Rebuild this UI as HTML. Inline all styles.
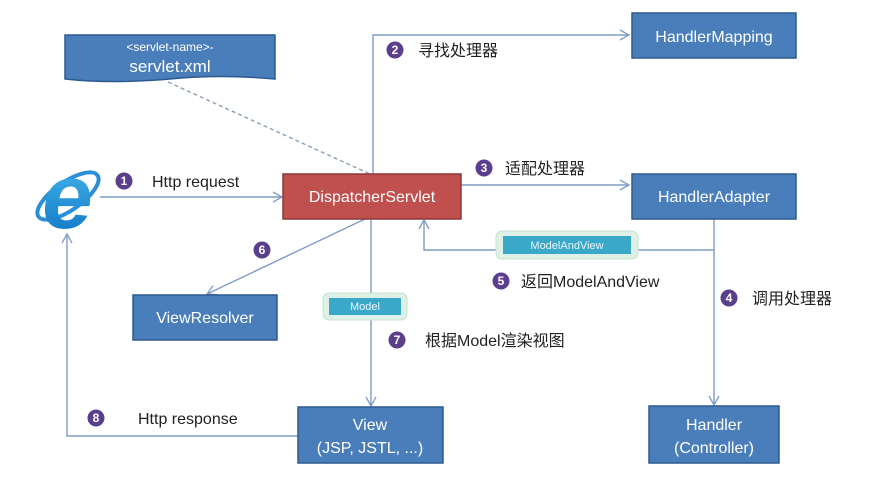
<!DOCTYPE html>
<html><head><meta charset="utf-8"><style>
body{margin:0;background:#fff;}
svg{display:block;}
.t{font-family:"Liberation Sans","Noto Sans CJK SC",sans-serif;}
</style></head><body>
<svg width="892" height="481" viewBox="0 0 892 481" xmlns="http://www.w3.org/2000/svg">
<defs>
<marker id="a" markerWidth="12" markerHeight="12" refX="10" refY="6" orient="auto" markerUnits="userSpaceOnUse">
<path d="M1,1 L10,6 L1,11" fill="none" stroke="#7f9dc4" stroke-width="1.3"/></marker>
<linearGradient id="ie" x1="0" y1="0" x2="0" y2="1"><stop offset="0" stop-color="#4fc3f0"/><stop offset="1" stop-color="#0a6fc2"/></linearGradient>
</defs>
<rect width="892" height="481" fill="#fff"/>
<g stroke="#7f9dc4" stroke-width="1.4" fill="none">
<line x1="100" y1="197" x2="282" y2="197" marker-end="url(#a)"/>
<polyline points="373,174 373,35 629,35" marker-end="url(#a)"/>
<line x1="461" y1="185" x2="629" y2="185" marker-end="url(#a)"/>
<line x1="714" y1="219" x2="714" y2="405" marker-end="url(#a)"/>
<polyline points="714,250 424,250 424,220" marker-end="url(#a)"/>
<line x1="365" y1="219" x2="207" y2="294" marker-end="url(#a)"/>
<line x1="371" y1="219" x2="371" y2="406" marker-end="url(#a)"/>
<polyline points="298,436 67,436 67,234" marker-end="url(#a)"/>
<line x1="168" y1="82" x2="370" y2="174" stroke-dasharray="4,3" stroke="#8aa0b8"/>
</g>
<path d="M65,35 H275 V79 Q220,74 170,79 Q110,84 65,79 Z" fill="#4a7ebb" stroke="#2c5a8f" stroke-width="1.5"/>
<text x="170" y="51" class="t" font-size="12" fill="#fff" text-anchor="middle">&lt;servlet-name&gt;-</text>
<text x="170" y="72" class="t" font-size="17" fill="#fff" text-anchor="middle">servlet.xml</text>
<ellipse cx="68" cy="196" rx="36" ry="14" transform="rotate(-35 68 196)" fill="none" stroke="#2a8fd8" stroke-width="4"/>
<text x="68" y="228" class="t" font-size="92" font-weight="bold" fill="url(#ie)" text-anchor="middle" transform="skewX(-8) translate(28 0)">e</text>
<g stroke="#2c5a8f" stroke-width="1.5">
<rect x="283" y="174" width="178" height="45" fill="#c0504d" stroke="#8c3836"/>
<rect x="632" y="13" width="164" height="45" fill="#4a7ebb"/>
<rect x="632" y="174" width="164" height="45" fill="#4a7ebb"/>
<rect x="133" y="295" width="144" height="45" fill="#4a7ebb"/>
<rect x="298" y="407" width="145" height="56" fill="#4a7ebb"/>
<rect x="649" y="406" width="130" height="57" fill="#4a7ebb"/>
</g>
<g class="t" font-size="16" fill="#fff" text-anchor="middle">
<text x="372" y="202">DispatcherServlet</text>
<text x="714" y="42">HandlerMapping</text>
<text x="714" y="202">HandlerAdapter</text>
<text x="205" y="323">ViewResolver</text>
<text x="370" y="430">View</text>
<text x="370" y="453">(JSP, JSTL, ...)</text>
<text x="714" y="430">Handler</text>
<text x="714" y="453">(Controller)</text>
</g>
<rect x="496" y="231" width="142" height="28" rx="6" fill="#dff1e6" stroke="#c4e2cf"/>
<rect x="503" y="236" width="128" height="18" fill="#3aa9c9"/>
<text x="567" y="249" class="t" font-size="11" fill="#e8f6fb" text-anchor="middle">ModelAndView</text>
<rect x="323" y="293" width="84" height="27" rx="6" fill="#dff1e6" stroke="#c4e2cf"/>
<rect x="329" y="298" width="72" height="17" fill="#3aa9c9"/>
<text x="365" y="310" class="t" font-size="11" fill="#e8f6fb" text-anchor="middle">Model</text>
<g fill="#5b3f8c">
<circle cx="124" cy="181" r="8.5"/><circle cx="395" cy="50" r="8.5"/><circle cx="484" cy="168" r="8.5"/>
<circle cx="729" cy="298" r="8.5"/><circle cx="501" cy="281" r="8.5"/><circle cx="262" cy="250" r="8.5"/>
<circle cx="397" cy="340" r="8.5"/><circle cx="96" cy="418" r="8.5"/>
</g>
<g class="t" font-size="12" font-weight="bold" fill="#fff" text-anchor="middle">
<text x="124" y="185">1</text><text x="395" y="54">2</text><text x="484" y="172">3</text>
<text x="729" y="302">4</text><text x="501" y="285">5</text><text x="262" y="254">6</text>
<text x="397" y="344">7</text><text x="96" y="422">8</text>
</g>
<g class="t" font-size="16" fill="#222">
<text x="152" y="187">Http request</text>
<text x="418" y="56">寻找处理器</text>
<text x="505" y="174">适配处理器</text>
<text x="752" y="304">调用处理器</text>
<text x="521" y="287">返回ModelAndView</text>
<text x="425" y="346">根据Model渲染视图</text>
<text x="138" y="424">Http response</text>
</g>
</svg>
</body></html>
